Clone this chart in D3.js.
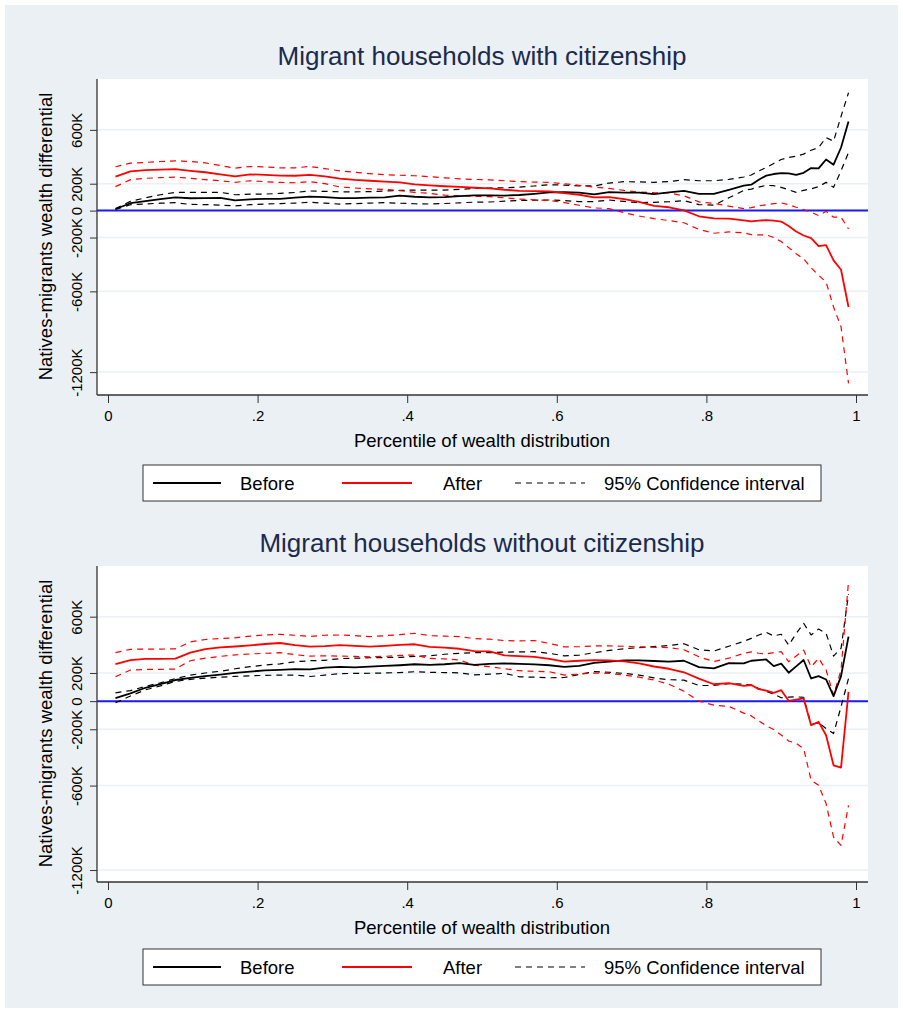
<!DOCTYPE html>
<html>
<head>
<meta charset="utf-8">
<script src="https://cdn.jsdelivr.net/npm/d3@7"></script>
<style>
  body { margin: 0; background: #fff; }
  svg { display: block; }
  text { font-family: "Liberation Sans", Arial, sans-serif; }
</style>
</head>
<body>
<script>
// percentile points (x)
var pct = [0.01,0.03,0.05,0.07,0.09,0.11,0.13,0.15,0.17,0.19,0.21,0.23,0.25,0.27,0.29,0.31,0.33,0.35,0.37,0.39,
  0.41,0.43,0.45,0.47,0.49,0.51,0.53,0.55,0.57,0.59,0.61,0.63,0.65,0.67,0.69,0.71,0.73,0.75,0.77,0.79,0.81,0.83,
  0.85,0.86,0.87,0.88,0.89,0.90,0.91,0.92,0.93,0.94,0.95,0.96,0.97,0.98,0.99];

// panel 1: with citizenship (values in K)
var before1 = [12,55,70,85,98,92,93,94,76,84,88,88,96,104,100,93,93,97,99,112,103,99,100,108,113,113,112,116,125,135,
  138,133,120,138,133,133,123,136,146,125,125,155,185,193,230,260,272,279,277,265,281,316,314,380,341,469,662];
var beforeHi1 = [15,69,95,118,136,136,136,136,118,122,123,128,135,146,143,140,140,141,146,150,153,153,153,158,165,168,
  170,175,183,192,190,184,183,205,215,214,210,216,230,222,222,232,250,265,295,320,350,380,395,405,420,449,469,543,515,700,876];
var beforeLo1 = [8,44,50,55,59,46,45,40,35,44,49,52,56,62,55,49,52,56,59,55,51,49,53,58,63,64,70,75,77,79,
  75,67,67,79,68,59,62,66,74,45,40,95,150,160,175,188,185,173,155,136,150,162,178,210,173,296,432];
var after1 = [252,291,301,305,308,296,285,270,254,270,265,260,259,266,255,238,228,222,215,210,195,188,181,176,170,166,
  155,147,145,143,130,118,98,101,85,65,35,25,2,-42,-57,-60,-72,-80,-75,-70,-75,-81,-115,-155,-185,-205,-264,-257,-370,-439,-716];
var afterHi1 = [326,353,358,365,370,365,355,335,316,328,325,318,318,328,312,295,285,275,267,263,259,252,244,236,232,228,
  222,215,212,210,200,188,175,165,150,138,133,131,110,65,54,33,15,22,35,44,52,57,45,25,8,-12,-37,-5,-49,-49,-136];
var afterLo1 = [178,230,240,245,249,240,230,222,210,222,215,210,207,215,200,176,168,162,158,148,136,128,115,110,106,104,
  95,86,80,75,60,40,20,15,-15,-40,-60,-74,-90,-140,-168,-158,-165,-178,-180,-180,-200,-230,-275,-320,-358,-425,-480,-531,-716,-864,-1284];

// panel 2: without citizenship (values in K)
var before2 = [21,55,95,120,150,165,178,188,200,210,218,222,228,225,238,244,240,245,250,255,262,258,262,270,258,265,
  268,265,261,255,244,250,272,280,290,290,285,280,287,242,232,270,268,287,292,296,249,266,202,247,292,161,178,154,36,178,458];
var beforeHi2 = [59,75,105,130,160,185,200,212,230,245,256,265,280,287,290,302,305,308,310,311,318,322,333,340,344,344,
  348,350,351,340,322,327,344,360,372,380,388,395,408,365,356,390,425,446,470,489,463,475,398,480,553,470,512,482,320,375,760];
var beforeLo2 = [-12,36,80,108,140,155,163,170,176,180,183,185,185,175,185,195,197,198,200,203,209,205,203,201,186,192,
  197,173,170,166,168,190,209,205,197,185,165,152,149,111,111,125,120,114,90,70,50,24,28,31,26,-166,-154,-194,-230,-40,161];
var after2 = [263,292,300,300,302,345,370,382,388,396,406,413,398,387,391,398,392,387,393,400,404,385,380,372,355,353,
  325,320,315,300,280,287,292,290,282,268,246,230,205,160,120,128,108,114,85,75,59,78,2,10,19,-171,-147,-242,-456,-472,66];
var afterHi2 = [344,368,370,370,371,420,438,445,450,462,470,475,468,460,468,470,465,458,465,472,482,465,462,458,445,440,
  430,428,430,410,385,387,392,392,390,385,382,380,365,315,282,305,340,350,340,335,345,351,280,320,363,244,304,221,43,221,849];
var afterLo2 = [173,221,225,226,228,287,305,318,328,335,340,344,330,320,322,320,318,315,318,325,327,304,300,292,255,245,
  230,216,212,209,185,192,200,197,185,170,150,120,70,0,-28,-38,-85,-105,-140,-175,-202,-240,-283,-300,-337,-562,-598,-728,-966,-1025,-740];

var titles = ["Migrant households with citizenship", "Migrant households without citizenship"];
var yTicks = [-1200, -600, -200, 0, 200, 600];
var xTicks = [0, 0.2, 0.4, 0.6, 0.8, 1];
var legendLabels = ["Before", "After", "95% Confidence interval"];

var svg = d3.select("body").append("svg")
  .attr("width", 903)
  .attr("height", 1013);

svg.append("rect")
  .attr("x", 5).attr("y", 5)
  .attr("width", 893).attr("height", 1003)
  .attr("fill", "#eaf0f3");

var panels = [
  {oy: 0, yDomain: [-1370, 978], legendTop: 465, series: [before1, beforeHi1, beforeLo1, after1, afterHi1, afterLo1]},
  {oy: 487, yDomain: [-1285, 960], legendTop: 949, series: [before2, beforeHi2, beforeLo2, after2, afterHi2, afterLo2]}
];

var left = 97, right = 868;

var x = d3.scaleLinear().domain([0, 1]).range([108, 856]);

panels.forEach(function(pn, i) {
  var top = 79 + pn.oy, bottom = 395 + pn.oy;
  var y = d3.scaleLinear().domain(pn.yDomain).range([bottom, top]);

  var g = svg.append("g");

  // title
  g.append("text")
    .attr("x", 482).attr("y", 65 + pn.oy)
    .attr("text-anchor", "middle")
    .attr("font-size", 26)
    .attr("fill", "#1c2a4e")
    .text(titles[i]);

  // plot region
  g.append("rect")
    .attr("x", left).attr("y", top)
    .attr("width", right - left).attr("height", bottom - top)
    .attr("fill", "#fff");

  // grid
  g.selectAll(".grid")
    .data(yTicks)
    .enter().append("line")
    .attr("x1", left).attr("x2", right)
    .attr("y1", d => y(d)).attr("y2", d => y(d))
    .attr("stroke", "#eaf0f3")
    .attr("stroke-width", 1.5);

  // zero line
  g.append("line")
    .attr("x1", left).attr("x2", right)
    .attr("y1", y(0)).attr("y2", y(0))
    .attr("stroke", "#1a1aff")
    .attr("stroke-width", 2);

  var line = d3.line()
    .x((d, j) => x(pct[j]))
    .y(d => y(d));

  var styles = [
    {color: "#000", w: 1.8, dash: null},
    {color: "#000", w: 1.2, dash: "6,5"},
    {color: "#000", w: 1.2, dash: "6,5"},
    {color: "#ff0000", w: 1.8, dash: null},
    {color: "#ff0000", w: 1.2, dash: "6,5"},
    {color: "#ff0000", w: 1.2, dash: "6,5"}
  ];

  // draw CI first, then solid lines
  [1, 2, 4, 5, 0, 3].forEach(function(k) {
    g.append("path")
      .datum(pn.series[k])
      .attr("d", line)
      .attr("fill", "none")
      .attr("stroke", styles[k].color)
      .attr("stroke-width", styles[k].w)
      .attr("stroke-dasharray", styles[k].dash)
      .attr("stroke-linejoin", "round");
  });

  // y axis
  var yAxis = g.append("g")
    .attr("transform", `translate(${left},0)`)
    .call(d3.axisLeft(y).tickValues(yTicks).tickSize(7).tickSizeOuter(0)
      .tickFormat(d => d === 0 ? "0" : d + "K"));
  yAxis.select(".domain").remove();
  yAxis.selectAll(".tick line").attr("stroke", "#333");
  yAxis.selectAll(".tick text")
    .attr("transform", "rotate(-90)")
    .attr("x", 0).attr("y", -15).attr("dy", 0)
    .attr("text-anchor", "middle")
    .attr("font-size", 15)
    .attr("font-family", null)
    .attr("fill", "#000");

  // x axis
  var xAxis = g.append("g")
    .attr("transform", `translate(0,${bottom})`)
    .call(d3.axisBottom(x).tickValues(xTicks).tickSize(8).tickSizeOuter(0)
      .tickFormat(d => d === 0 ? "0" : d === 1 ? "1" : String(d).replace("0.", ".")));
  xAxis.select(".domain").remove();
  xAxis.selectAll(".tick line").attr("stroke", "#333");
  xAxis.selectAll(".tick text")
    .attr("y", 26).attr("dy", 0)
    .attr("font-size", 15)
    .attr("font-family", null)
    .attr("fill", "#000");

  // axis lines
  g.append("line")
    .attr("x1", left).attr("x2", left)
    .attr("y1", top).attr("y2", bottom)
    .attr("stroke", "#333").attr("stroke-width", 1.3);
  g.append("line")
    .attr("x1", left).attr("x2", right)
    .attr("y1", bottom).attr("y2", bottom)
    .attr("stroke", "#333").attr("stroke-width", 1.3);

  // axis titles
  g.append("text")
    .attr("transform", `translate(51.5,${236.5 + pn.oy}) rotate(-90)`)
    .attr("text-anchor", "middle")
    .attr("font-size", 18.5)
    .text("Natives-migrants wealth differential");

  g.append("text")
    .attr("x", 482).attr("y", bottom + 52)
    .attr("text-anchor", "middle")
    .attr("font-size", 18.5)
    .text("Percentile of wealth distribution");

  // legend
  var lt = pn.legendTop;
  var lg = g.append("g").attr("transform", `translate(0,${lt})`);
  lg.append("rect")
    .attr("x", 143).attr("y", 0)
    .attr("width", 678).attr("height", 36)
    .attr("fill", "#fff")
    .attr("stroke", "#333")
    .attr("stroke-width", 1);

  var items = [
    {x1: 153, x2: 221, tx: 240, color: "#000", w: 1.8, dash: null},
    {x1: 342, x2: 412, tx: 443, color: "#ff0000", w: 1.8, dash: null},
    {x1: 515, x2: 585, tx: 604, color: "#000", w: 1.2, dash: "6,5"}
  ];
  items.forEach(function(it, k) {
    lg.append("line")
      .attr("x1", it.x1).attr("x2", it.x2)
      .attr("y1", 18).attr("y2", 18)
      .attr("stroke", it.color)
      .attr("stroke-width", it.w)
      .attr("stroke-dasharray", it.dash);
    lg.append("text")
      .attr("x", it.tx).attr("y", 25)
      .attr("font-size", 18.5)
      .text(legendLabels[k]);
  });
});
</script>
</body>
</html>
